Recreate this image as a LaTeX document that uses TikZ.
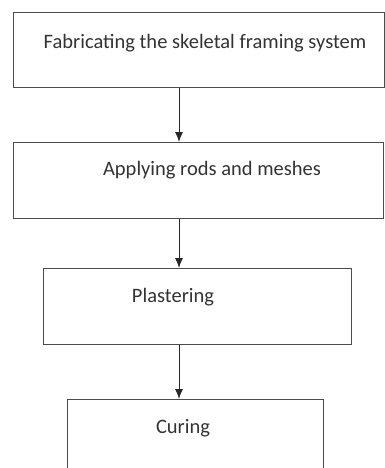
\documentclass[tikz,border=0pt]{standalone}
\usepackage{fontspec}
\setmainfont{Carlito}
\usetikzlibrary{arrows.meta}

\tikzset{
    stepbox/.style={draw=black!70, line width=1.4pt, anchor=north west, inner sep=0pt},
    steplabel/.style={text=black!80, font=\fontsize{20.5}{24}\selectfont, anchor=center},
    flowarrow/.style={-{Latex[length=10pt,width=8pt]}, line width=1pt, black!85}
}

\begin{document}
\begin{tikzpicture}[x=1pt, y=-1pt]

        \useasboundingbox (0, 0) rectangle (385, 468);
        \clip (0, 0) rectangle (385, 468);
        \fill [white] (0, 0) rectangle (385, 468);

        \node (b1) at (13, 12) [stepbox, minimum width = 371pt, minimum height = 75pt] {};
        \node (t1) at (205, 43) [steplabel] {Fabricating the skeletal framing system};

        \node (b2) at (13, 142) [stepbox, minimum width = 370pt, minimum height = 76pt] {};
        \node (t2) at (212, 170) [steplabel] {Applying rods and meshes};

        \node (b3) at (43, 268) [stepbox, minimum width = 308pt, minimum height = 76pt] {};
        \node (t3) at (173, 297) [steplabel] {Plastering};

        \node (b4) at (67, 399) [stepbox, minimum width = 256pt, minimum height = 80pt] {};
        \node (t4) at (183, 428) [steplabel] {Curing};

        \coordinate (ax) at (179, 0);
        \draw [flowarrow] (b1.south -| ax) -- (b2.north -| ax);
        \draw [flowarrow] (b2.south -| ax) -- (b3.north -| ax);
        \draw [flowarrow] (b3.south -| ax) -- (b4.north -| ax);

    \end{tikzpicture}
\end{document}
